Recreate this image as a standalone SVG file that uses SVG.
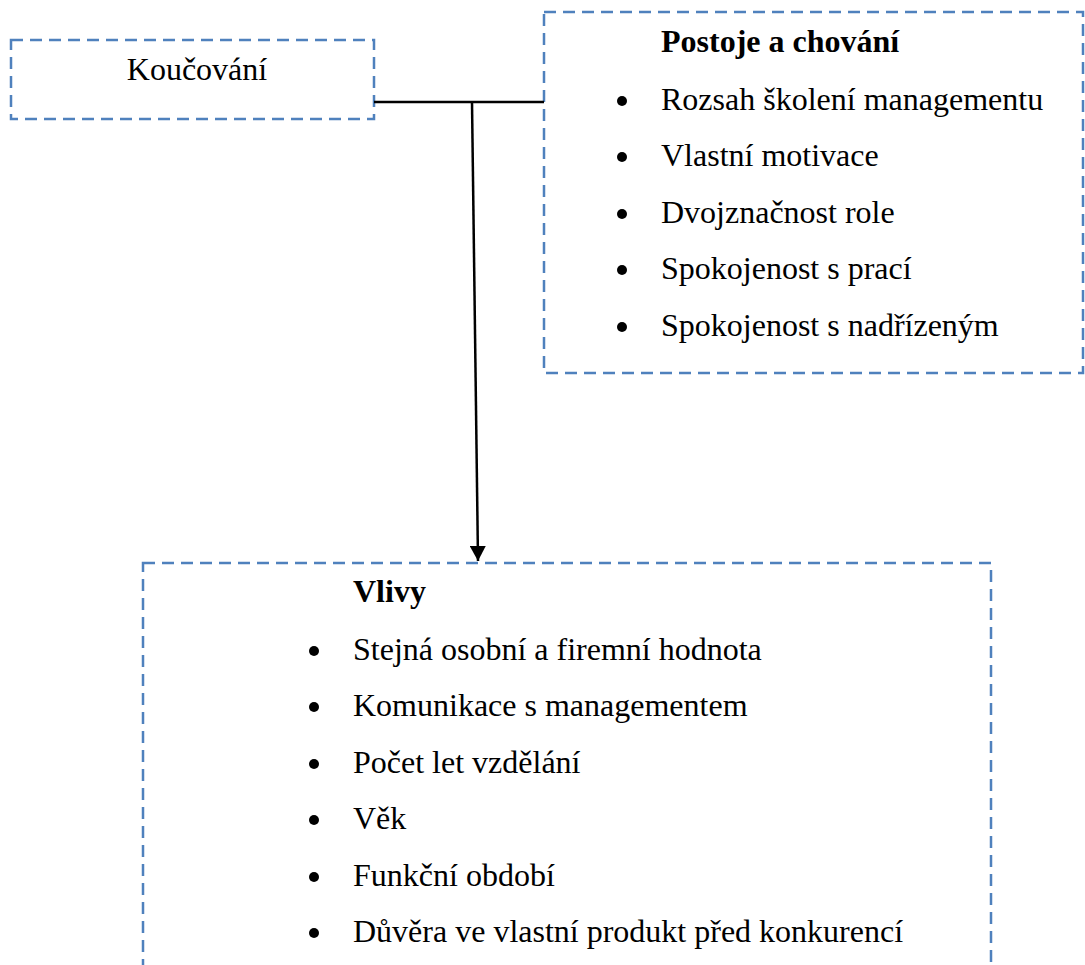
<svg xmlns="http://www.w3.org/2000/svg" width="1085" height="965" viewBox="0 0 1085 965">
<defs>
<style>
.box{fill:none;stroke:#4f81bd;stroke-width:2.5;stroke-dasharray:12 7}
.t{font-family:"Liberation Serif","Times New Roman",serif;font-size:32px;fill:#000}
.b{font-weight:bold}
.bul{fill:#000}
.conn{stroke:#000;stroke-width:2.5;fill:none}
</style>
<marker id="arr" markerWidth="16" markerHeight="16" refX="15" refY="8" orient="auto" markerUnits="userSpaceOnUse" viewBox="0 0 16 16">
<path d="M0,0 L15,8 L0,16 Z" fill="#000"/>
</marker>
</defs>
<rect width="1085" height="965" fill="#fff"/>
<g id="koucovani">
<rect class="box" x="11" y="40" width="363" height="79"/>
<text class="t" x="197" y="80" text-anchor="middle">Koučování</text>
</g>
<g id="postoje">
<rect class="box" x="544" y="12" width="539" height="361"/>
<text class="t b" x="661" y="52">Postoje a chování</text>
<circle class="bul" cx="622" cy="101" r="5"/>
<text class="t" x="661" y="110">Rozsah školení managementu</text>
<circle class="bul" cx="622" cy="157" r="5"/>
<text class="t" x="661" y="166">Vlastní motivace</text>
<circle class="bul" cx="622" cy="214" r="5"/>
<text class="t" x="661" y="223">Dvojznačnost role</text>
<circle class="bul" cx="622" cy="270" r="5"/>
<text class="t" x="661" y="279">Spokojenost s prací</text>
<circle class="bul" cx="622" cy="327" r="5"/>
<text class="t" x="661" y="336">Spokojenost s nadřízeným</text>
</g>
<g id="vlivy">
<rect class="box" x="143" y="563" width="848" height="420"/>
<text class="t b" x="353" y="602">Vlivy</text>
<circle class="bul" cx="314" cy="651" r="5"/>
<text class="t" x="353" y="660">Stejná osobní a firemní hodnota</text>
<circle class="bul" cx="314" cy="707" r="5"/>
<text class="t" x="353" y="716">Komunikace s managementem</text>
<circle class="bul" cx="314" cy="764" r="5"/>
<text class="t" x="353" y="773">Počet let vzdělání</text>
<circle class="bul" cx="314" cy="820" r="5"/>
<text class="t" x="353" y="829">Věk</text>
<circle class="bul" cx="314" cy="877" r="5"/>
<text class="t" x="353" y="886">Funkční období</text>
<circle class="bul" cx="314" cy="933" r="5"/>
<text class="t" x="353" y="942">Důvěra ve vlastní produkt před konkurencí</text>
</g>
<g id="connectors">
<line class="conn" x1="472" y1="102" x2="544" y2="102"/>
<line class="conn" x1="374" y1="102" x2="472" y2="102"/>
<line class="conn" x1="472" y1="102" x2="478" y2="561" marker-end="url(#arr)"/>
</g>
</svg>
